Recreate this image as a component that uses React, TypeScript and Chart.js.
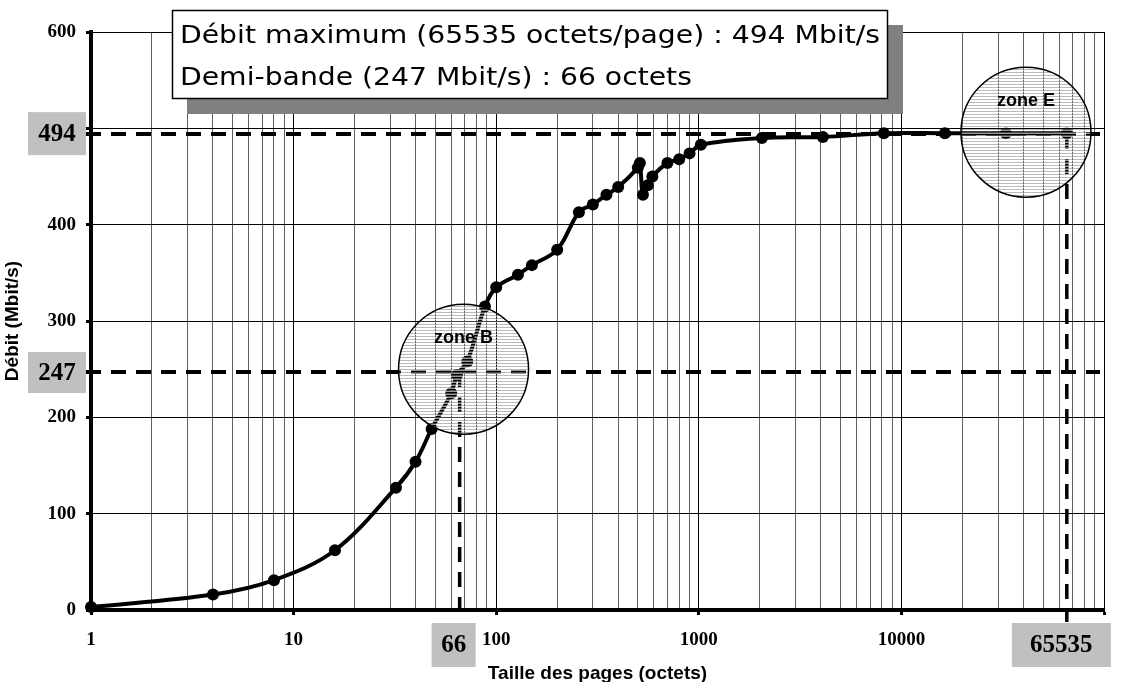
import React, { useEffect, useRef } from 'react';
import { Chart, registerables } from 'chart.js';

Chart.register(...registerables);

// ---- data ----
const PAGE_SIZES = [1, 4, 8, 16, 32, 40, 48, 60, 64, 72, 88, 100, 128, 150, 200, 256, 300, 350, 400, 500, 512, 530, 560, 590, 700, 800, 900, 1024, 2048, 4096, 8192, 16384, 32768, 65535];
const RATES = [3, 16, 31, 62, 127, 154, 188, 225, 244, 258, 315, 335, 348, 358, 374, 413, 421, 431, 439, 459, 464, 431, 441, 450, 464, 468, 474, 483, 490, 491, 495, 495, 495, 495];

const X_DECADES = [1, 10, 100, 1000, 10000];
const X_MINOR_MULTIPLIERS = [1, 2, 3, 4, 5, 6, 7, 8, 9];
const X_MAX = 100000;
const X_TICK_LABELS = ['1', '10', '100', '1000', '10000'];
const Y_TICKS = [0, 100, 200, 300, 400, 500, 600];
const Y_HIDDEN_LABELS = [500];

const MAX_RATE = 494;
const MAX_SIZE = 65535;
const HALF_RATE = 247;
const HALF_SIZE = 66;

const INFO_LINES = [
  'Débit maximum (65535 octets/page) : 494 Mbit/s',
  'Demi-bande (247 Mbit/s) : 66 octets',
];

const ZONE_LABELS = ['zone B', 'zone E'];
const ZONE_X = [69, 41200];
const ZONE_Y = [250, 496];

const X_TITLE = 'Taille des pages (octets)';
const Y_TITLE = 'Débit (Mbit/s)';

const SERIF = '"Liberation Serif", "Times New Roman", serif';
const SANS = '"Liberation Sans", Arial, sans-serif';
const HAND = '"Comic Sans MS", "DejaVu Sans", sans-serif';

const isDecade = (v: number) => X_DECADES.includes(v) || v === X_MAX;

function makeStripePattern(ctx: CanvasRenderingContext2D) {
  const c = document.createElement('canvas');
  c.width = 4;
  c.height = 3;
  const p = c.getContext('2d')!;
  p.fillStyle = 'rgba(130,130,130,0.55)';
  p.fillRect(0, 0, 4, 1);
  p.fillStyle = 'rgba(255,255,255,0.6)';
  p.fillRect(0, 1, 4, 1);
  return ctx.createPattern(c, 'repeat');
}

function grayBox(ctx: CanvasRenderingContext2D, x0: number, y0: number, x1: number, y1: number, text: string) {
  ctx.fillStyle = '#c0c0c0';
  ctx.fillRect(x0, y0, x1 - x0, y1 - y0);
  ctx.fillStyle = '#000';
  ctx.font = `bold 25px ${SERIF}`;
  ctx.textAlign = 'center';
  ctx.textBaseline = 'middle';
  ctx.fillText(text, (x0 + x1) / 2, (y0 + y1) / 2 + 1);
}

const overlayPlugin = {
  id: 'overlay',
  afterDatasetsDraw(chart: any) {
    const { ctx, chartArea } = chart;
    const xs = chart.scales.x;
    const ys = chart.scales.y;
    const yMax = ys.getPixelForValue(MAX_RATE);
    const yHalf = ys.getPixelForValue(HALF_RATE);
    const xMax = xs.getPixelForValue(MAX_SIZE);
    const xHalf = xs.getPixelForValue(HALF_SIZE);
    const left = chartArea.left - 5;
    const right = chartArea.right - 4;
    const below = chartArea.bottom + 12;

    ctx.save();
    ctx.strokeStyle = '#000';
    ctx.lineWidth = 4;
    ctx.setLineDash([15, 10]);
    ctx.lineCap = 'butt';
    const seg = (a: number, b: number, c: number, d: number) => {
      ctx.beginPath();
      ctx.moveTo(a, b);
      ctx.lineTo(c, d);
      ctx.stroke();
    };
    seg(left, yMax, right, yMax);
    seg(left, yHalf, right, yHalf);
    ctx.lineWidth = 3.5;
    seg(xHalf, yHalf, xHalf, below);
    seg(xMax, yMax, xMax, below);
    ctx.restore();

    // hatched zones
    const pattern = makeStripePattern(ctx);
    ZONE_LABELS.forEach((label, i) => {
      const cx = xs.getPixelForValue(ZONE_X[i]);
      const cy = ys.getPixelForValue(ZONE_Y[i]);
      const r = 65;
      ctx.save();
      ctx.beginPath();
      ctx.arc(cx, cy, r, 0, Math.PI * 2);
      if (pattern) ctx.fillStyle = pattern;
      ctx.fill();
      ctx.lineWidth = 1.5;
      ctx.strokeStyle = '#000';
      ctx.stroke();
      ctx.fillStyle = '#000';
      ctx.font = `bold 18px ${SANS}`;
      ctx.textAlign = 'center';
      ctx.textBaseline = 'middle';
      ctx.fillText(label, cx, cy - 31);
      ctx.restore();
    });
  },
  afterDraw(chart: any) {
    const { ctx, chartArea } = chart;
    const xs = chart.scales.x;
    const ys = chart.scales.y;
    const yMax = ys.getPixelForValue(MAX_RATE);
    const yHalf = ys.getPixelForValue(HALF_RATE);
    const xMax = xs.getPixelForValue(MAX_SIZE);
    const xHalf = xs.getPixelForValue(HALF_SIZE);
    const boxTop = chartArea.bottom + 13;
    ctx.save();
    grayBox(ctx, 28, yMax - 22, 86, yMax + 21, String(MAX_RATE));
    grayBox(ctx, 28, yHalf - 20, 86, yHalf + 21, String(HALF_RATE));
    grayBox(ctx, xHalf - 28, boxTop, xHalf + 16, boxTop + 44, String(HALF_SIZE));
    grayBox(ctx, xMax - 55, boxTop, xMax + 44, boxTop + 44, String(MAX_SIZE));

    // info box with shadow
    ctx.fillStyle = '#808080';
    ctx.fillRect(187, 25, 716, 89);
    ctx.fillStyle = '#fff';
    ctx.fillRect(172, 10, 715, 88);
    ctx.strokeStyle = '#000';
    ctx.lineWidth = 1.5;
    ctx.strokeRect(172.5, 10.5, 715, 88);
    ctx.fillStyle = '#000';
    ctx.font = `25px ${HAND}`;
    ctx.textAlign = 'left';
    ctx.textBaseline = 'alphabetic';
    const w = ctx.measureText(INFO_LINES[0]).width;
    const sx = 700 / w;
    ctx.save();
    ctx.translate(180, 0);
    ctx.scale(sx, 1);
    ctx.fillText(INFO_LINES[0], 0, 43);
    ctx.fillText(INFO_LINES[1], 0, 85);
    ctx.restore();
    ctx.restore();
  },
};

export default function App() {
  const ref = useRef<HTMLCanvasElement | null>(null);
  useEffect(() => {
    const canvas = ref.current;
    if (!canvas) return;
    const chart = new Chart(canvas, {
      type: 'line',
      data: {
        datasets: [
          {
            label: 'Débit',
            data: PAGE_SIZES.map((s, i) => ({ x: s, y: RATES[i] })),
            borderColor: '#000',
            backgroundColor: '#000',
            borderWidth: 4,
            pointRadius: 6,
            pointBackgroundColor: '#000',
            pointBorderWidth: 0,
            tension: 0.35,
            fill: false,
            clip: false as any,
          },
        ],
      },
      options: {
        responsive: false,
        animation: false,
        devicePixelRatio: 1,
        layout: { padding: { left: 0, right: 23, top: 32, bottom: 0 } },
        plugins: { legend: { display: false }, tooltip: { enabled: false }, title: { display: false } },
        scales: {
          x: {
            type: 'logarithmic',
            min: 1,
            max: X_MAX,
            afterBuildTicks: (s: any) => {
              const t: any[] = [];
              X_DECADES.forEach((d) => X_MINOR_MULTIPLIERS.forEach((m) => t.push({ value: m * d, major: m === 1 })));
              t.push({ value: X_MAX, major: true });
              s.ticks = t;
            },
            afterFit: (s: any) => {
              s.height = 72;
            },
            ticks: {
              autoSkip: false,
              maxRotation: 0,
              padding: 14,
              color: '#000',
              font: { family: SERIF, size: 19, weight: 'bold' },
              callback: (v: any) => (X_TICK_LABELS.includes(String(v)) ? String(v) : ''),
            },
            grid: {
              color: (c: any) => (c.tick && isDecade(c.tick.value) ? '#000' : '#606060'),
              lineWidth: 1,
              tickLength: 5,
              tickWidth: 3,
              tickColor: (c: any) => (c.tick && isDecade(c.tick.value) ? '#000' : 'rgba(0,0,0,0)'),
            },
            border: { color: '#000', width: 4 },
            title: {
              display: true,
              text: X_TITLE,
              color: '#000',
              font: { family: SANS, size: 19, weight: 'bold' },
              padding: { top: 0, bottom: -3 },
            },
          },
          y: {
            type: 'linear',
            min: 0,
            max: 600,
            afterBuildTicks: (s: any) => {
              s.ticks = Y_TICKS.map((v) => ({ value: v }));
            },
            afterFit: (s: any) => {
              s.width = 91;
            },
            ticks: {
              padding: 10,
              color: '#000',
              font: { family: SERIF, size: 19, weight: 'bold' },
              callback: (v: any) => (Y_HIDDEN_LABELS.includes(Number(v)) ? '' : String(v)),
            },
            grid: { color: '#000', lineWidth: 1, tickLength: 5, tickWidth: 3, tickColor: '#000' },
            border: { color: '#000', width: 4 },
            title: {
              display: true,
              text: Y_TITLE,
              color: '#000',
              font: { family: SANS, size: 19, weight: 'bold' },
              padding: { top: 1, bottom: 0 },
            },
          },
        },
      },
      plugins: [overlayPlugin],
    } as any);
    return () => chart.destroy();
  }, []);
  return (
    <div style={{ position: 'absolute', left: 0, top: 0, width: 1127, height: 682, background: '#fff' }}>
      <canvas ref={ref} width={1127} height={682} style={{ display: 'block', width: 1127, height: 682 }} />
    </div>
  );
}
